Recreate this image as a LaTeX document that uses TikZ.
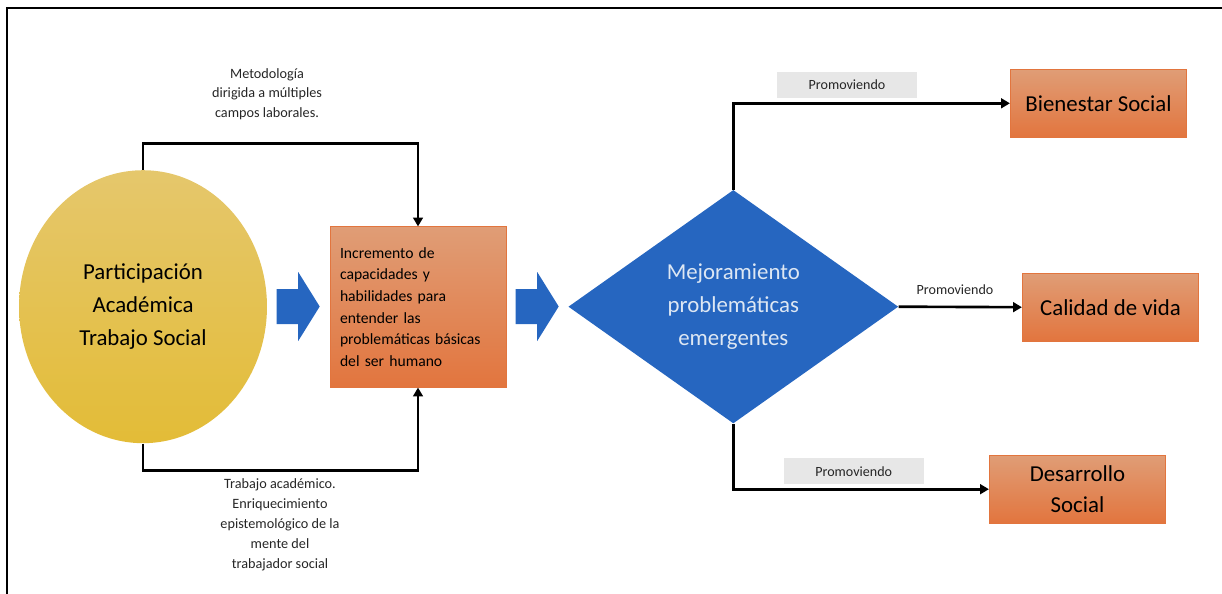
\documentclass[tikz,border=0pt]{standalone}
\usepackage{fontspec}
\setmainfont{Carlito}
\usepackage{xcolor}
\definecolor{oro}{RGB}{227,188,55}
\definecolor{oroclaro}{RGB}{229,199,108}
\definecolor{naranja}{RGB}{226,117,62}
\definecolor{naranjaclaro}{RGB}{224,157,118}
\definecolor{azul}{RGB}{38,102,192}
\definecolor{azulclaro}{RGB}{221,231,243}
\definecolor{gris}{RGB}{231,231,231}
\definecolor{texto}{RGB}{38,38,38}
\usetikzlibrary{calc,positioning,arrows.meta,shapes.geometric}
\tikzset{
  partic/.style={ellipse, top color=oroclaro, bottom color=oro, minimum width=4.96cm, minimum height=5.46cm, inner sep=0pt, align=center, font=\fontsize{13}{18.6}\selectfont},
  prog/.style={rectangle, draw=naranja, thin, top color=naranjaclaro, bottom color=naranja, text width=3.12cm, align=left, minimum height=3.21cm, inner xsep=0.2cm, font=\fontsize{8.9}{12.35}\selectfont},
  progbig/.style={rectangle, draw=naranja, thin, top color=naranjaclaro, bottom color=naranja, minimum width=3.53cm, minimum height=1.36cm, align=center, inner sep=0pt, font=\fontsize{13}{18}\selectfont},
  rombo/.style={diamond, aspect=1.4, fill=azul, text=azulclaro, minimum width=6.6cm, minimum height=4.67cm, inner sep=0pt, align=center, font=\fontsize{13}{18.6}\selectfont},
  etiq/.style={text=texto, align=center, inner sep=0pt, font=\fontsize{8.1}{11.2}\selectfont},
  prom/.style={fill=gris, text=texto, minimum width=2.8cm, minimum height=0.52cm, inner sep=0pt, font=\fontsize{8}{9.6}\selectfont},
  promt/.style={text=texto, inner sep=0pt, font=\fontsize{8}{9.6}\selectfont},
  bloque/.style={fill=azul},
  line/.style={draw, line width=1.5pt, -{Triangle[length=5pt,width=5.5pt]}},
  marco/.style={draw, line width=1.1pt},
}

\begin{document}
\begin{tikzpicture}[x=0.02cm,y=-0.02cm]
    \useasboundingbox (0,0) rectangle (1222,594);
    \draw[marco] (1222,8) -- (7,8) -- (7,594);

    \node[partic] (part) at (143,306.7) {Participación\\Académica\\Trabajo Social};
    \node[prog] (inc) at (418,307) {Incremento de\\capacidades y\\habilidades para\\entender las\\problemáticas básicas\\del ser humano};
    \node[rombo] (mejora) at (733.3,306.7) {Mejoramiento\\problemáticas\\emergentes};

    \node[progbig] (bien) at (1098.5,103.3) {Bienestar Social};
    \node[progbig] (cal) at (1110.5,307.2) {Calidad de vida};
    \node[progbig] (des) at (1077.5,489.2) {Desarrollo\\Social};

    \node[etiq] (metod) at (267,94) {Metodología\\dirigida a múltiples\\campos laborales.};
    \node[etiq, font=\fontsize{8.1}{11.4}\selectfont] (trab) at (280,524.5) {Trabajo académico.\\Enriquecimiento\\epistemológico de la\\mente del\\trabajador social};

    \node[prom] (prom1) at (847,85) {Promoviendo};
    \node[promt] (prom2) at (955,290) {Promoviendo};
    \node[prom] (prom3) at (853.7,471.3) {Promoviendo};

    \coordinate (ctop) at (418,143.3);
    \coordinate (cbot) at (418,470.7);

    % flechas de bloque
    \foreach \x in {276.7,515.7}
      \fill[bloque] (\x,289) -- ++(21.5,0) -- ++(0,-17) -- ++(21.5,34.5) -- ++(-21.5,34.5) -- ++(0,-17) -- ++(-21.5,0) -- cycle;

    \begin{scope} [every path/.style=line]
      \path (part.north) |- (ctop) -- (inc.north);
      \path (part.south) |- (cbot) -- (inc.south);

      \path (mejora.north) |- (bien.west);
      \path (mejora.east) -- (cal.west);
      \path (mejora.south) |- (des.west);
    \end{scope}

\end{tikzpicture}
\end{document}
